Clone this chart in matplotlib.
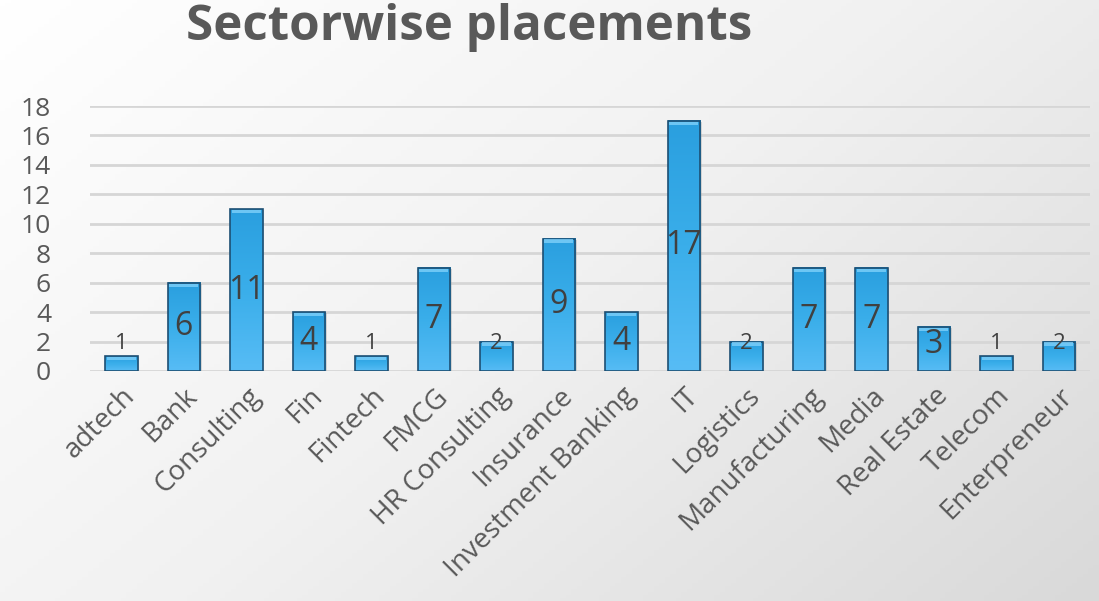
import matplotlib.pyplot as plt
import numpy as np
from matplotlib.colors import LinearSegmentedColormap

sectors = ['adtech', 'Bank', 'Consulting', 'Fin', 'Fintech', 'FMCG', 'HR Consulting',
           'Insurance', 'Investment Banking', 'IT', 'Logistics', 'Manufacturing',
           'Media', 'Real Estate', 'Telecom', 'Enterpreneur']
placements = [1, 6, 11, 4, 1, 7, 2, 9, 4, 17, 2, 7, 7, 3, 1, 2]
yticks = [0, 2, 4, 6, 8, 10, 12, 14, 16, 18]

plt.rcParams['font.family'] = ['Open Sans', 'DejaVu Sans']

fig = plt.figure(figsize=(10.99, 6.01), dpi=100)

# background gradient, white top-left to light grey bottom-right
bg = fig.add_axes([0, 0, 1, 1], zorder=-10)
gx, gy = np.meshgrid(np.linspace(0, 1, 200), np.linspace(0, 1, 200))
grad = 0.6 * gx + 0.4 * gy
bg_cmap = LinearSegmentedColormap.from_list('bg', ['#ffffff', '#f1f1f1', '#d9d9d9'])
bg.imshow(grad, cmap=bg_cmap, aspect='auto', extent=[0, 1, 0, 1], origin='upper')
bg.set_axis_off()

ax = fig.add_axes([90 / 1099, 1 - 371 / 601, 1000 / 1099, (371 - 106) / 601])
ax.patch.set_alpha(0)

x = np.arange(len(sectors))
width = 0.52
bar_cmap = LinearSegmentedColormap.from_list('bar', ['#2a9fdf', '#3aaeea', '#57bcf5'])
bar_grad = np.linspace(0, 1, 100).reshape(-1, 1)

for xi, v in zip(x, placements):
    # shadow
    ax.add_patch(plt.Rectangle((xi - width / 2 + 0.03, -0.08), width, v,
                               facecolor='#9a9a9a', alpha=0.35, edgecolor='none', zorder=2))
    ax.imshow(bar_grad, cmap=bar_cmap, aspect='auto', origin='upper',
              extent=[xi - width / 2, xi + width / 2, 0, v], zorder=3)
    ax.add_patch(plt.Rectangle((xi - width / 2, 0), width, v, facecolor='none',
                               edgecolor='#1d4f73', linewidth=1.2, zorder=4))
    # top highlight
    ax.add_patch(plt.Rectangle((xi - width / 2 + 0.03, v - 0.28), width - 0.06, 0.22,
                               facecolor='#7fd0fa', edgecolor='none', alpha=0.8, zorder=4))
    if v <= 2:
        ax.text(xi, max(v / 2, 1.9), str(v), ha='center', va='center',
                fontsize=16, color='#404040', zorder=5)
    else:
        ax.text(xi, max(v / 2, 1.8), str(v), ha='center', va='center',
                fontsize=23, color='#404040', zorder=5)

ax.set_xlim(-0.5, len(sectors) - 0.5)
ax.set_ylim(0, 18)
ax.set_yticks(yticks)
ax.set_yticklabels([str(t) for t in yticks], fontsize=19, color='#595959')
ax.set_xticks(x)
ax.set_xticklabels(sectors, rotation=45, ha='right', rotation_mode='anchor',
                   fontsize=20, color='#595959')
ax.tick_params(axis='both', length=0)
ax.tick_params(axis='y', pad=28)
ax.tick_params(axis='x', pad=8)
ax.yaxis.grid(True, color='#d6d6d6', linewidth=2)
ax.set_axisbelow(True)
for s in ax.spines.values():
    s.set_visible(False)

fig.text(469 / 1099, 1 - 28 / 601, 'Sectorwise placements', ha='center', va='center',
         fontsize=35.5, fontweight='bold', color='#595959')

fig.savefig('out.png', dpi=100)
